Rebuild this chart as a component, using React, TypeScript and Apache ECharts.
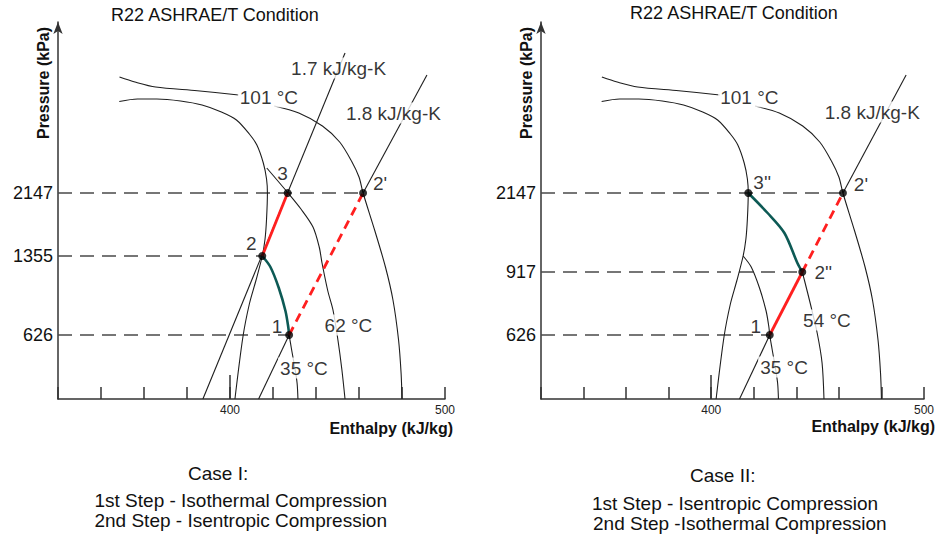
import React, { useEffect, useRef } from "react";
import * as echarts from "echarts";

const FONT = '"Liberation Sans", Arial, Helvetica, sans-serif';

// ---------- axes ----------
const hMin = 320;
const hMax = 500;
const hStep = 20;
const hLabels = [400, 500];
const hMajorTick = [400];
const levelMax = 377; // schematic pressure-axis height (diagram units)

// pressure tick labels (kPa) and their schematic levels
const pressuresI = [626, 1355, 2147];
const levelsI = [64, 143, 206];
const pressuresII = [626, 917, 2147];
const levelsII = [64, 127, 206];

// ---------- shared property lines [enthalpy kJ/kg, level] ----------
const iso101Liquid = [
  [348.6, 322], [355.8, 317], [365.4, 312], [384.8, 308.3], [404, 304],
];
const iso101Vapor = [
  [420.6, 293], [432, 286], [443, 273], [451, 257], [456.5, 238], [460, 222],
  [461.9, 206], [467.4, 168], [472.3, 132], [475.8, 99], [478.4, 59], [479.6, 25], [480, 0],
];
const satDome = [
  [348.5, 297.5], [357, 300], [366, 300], [377, 298], [387, 294], [396, 287],
  [403, 279], [409, 265], [412.5, 254], [415.5, 236], [417, 220], [417.4, 206],
  [417, 180], [416.3, 160], [415, 143], [412, 118], [409, 95], [406, 62], [402.3, 0],
];
const iso35Upper = [
  [415, 143], [418.8, 132], [422.7, 111], [425.8, 88], [427.1, 72], [427.5, 64],
];
const iso35Lower = [
  [427.5, 64], [428.6, 50], [430, 33], [431.2, 16], [431.6, 0],
];
const isentrope18Lower = [[413.3, 0], [427.5, 64]];
const isentrope18Upper = [[461.9, 206], [491.6, 324]];

// Case I only
const isentrope17 = [[387.4, 0], [453.5, 346]];
const iso62 = [
  [417.1, 231], [427, 206], [433, 190], [438.6, 172], [441.5, 152], [442.8, 136],
  [445.5, 108], [447.9, 89], [450.2, 59], [452, 30], [453.5, 0],
];
// Case II only
const iso54Upper = [
  [417.4, 206], [426.5, 186], [434.4, 166], [440.5, 136], [442.8, 127],
];
const iso54Lower = [
  [442.8, 127], [443.9, 118], [446.5, 96], [449.8, 66], [452.1, 36], [453, 0],
];

// state points [name, enthalpy, level]
const statesI: [string, number, number][] = [
  ["1", 427.5, 64], ["2", 415, 143], ["3", 426.8, 206], ["2'", 461.9, 206],
];
const statesII: [string, number, number][] = [
  ["1", 427.5, 64], ["2''", 442.8, 127], ["3''", 417.4, 206], ["2'", 461.9, 206],
];

// curve labels [text, enthalpy, level]
const curveLabelsI: [string, number, number][] = [
  ["101 °C", 418.1, 302], ["1.7 kJ/kg-K", 450.5, 331], ["1.8 kJ/kg-K", 476, 286],
  ["62 °C", 455.1, 74], ["35 °C", 434.4, 31],
];
const curveLabelsII: [string, number, number][] = [
  ["101 °C", 417.9, 302], ["1.8 kJ/kg-K", 475.7, 287], ["54 °C", 454.4, 79],
  ["35 °C", 434.2, 32],
];

const titleText = "R22 ASHRAE/T Condition";
const captionI = ["Case I:", "1st Step - Isothermal Compression", "2nd Step - Isentropic Compression"];
const captionII = ["Case II:", "1st Step - Isentropic Compression", "2nd Step -Isothermal Compression"];

// ---------- styles ----------
const INK = "#1e1e1e";
const AXIS = "#333";
const TEAL = "#0d5a55";
const RED = "#ff1f1f";
const DASH = "#4a4a4a";

const offsetsI: Record<string, [number, number]> = {
  "1": [-12, -9], "2": [-11, -13], "3": [-5, -20], "2'": [17, -10],
};
const offsetsII: Record<string, [number, number]> = {
  "1": [-14, -9], "2''": [21, 0], "3''": [14, -11], "2'": [18, -9],
};

function lineSeries(data: number[][], xi: number, yi: number, style: any, smooth: number | false = false, z = 2) {
  return {
    type: "line",
    data,
    xAxisIndex: xi,
    yAxisIndex: yi,
    symbol: "none",
    showSymbol: false,
    silent: true,
    smooth,
    z,
    lineStyle: style,
    emphasis: { disabled: true },
  };
}

function dashedLevels(levels: number[], states: [string, number, number][], xi: number, yi: number) {
  return levels.map((lv) => {
    const st = states.filter((s) => s[2] === lv).sort((a, b) => b[1] - a[1])[0];
    return lineSeries([[hMin, lv], [st[1], lv]], xi, yi, { color: DASH, width: 1.3, type: [14, 8] }, false, 1);
  });
}

function labelSeries(labels: [string, number, number][], xi: number, yi: number) {
  return {
    type: "scatter",
    xAxisIndex: xi,
    yAxisIndex: yi,
    symbolSize: 1,
    silent: true,
    z: 5,
    itemStyle: { color: "transparent" },
    data: labels.map((l) => ({ name: l[0], value: [l[1], l[2]] })),
    label: {
      show: true,
      position: "inside",
      formatter: "{b}",
      fontFamily: FONT,
      fontSize: 19,
      color: "#000",
      textBorderWidth: 0,
      backgroundColor: "#ffffff",
      padding: [1, 2],
    },
  };
}

function stateSeries(states: [string, number, number][], offsets: Record<string, [number, number]>, xi: number, yi: number) {
  return {
    type: "scatter",
    xAxisIndex: xi,
    yAxisIndex: yi,
    symbolSize: 8,
    silent: true,
    z: 6,
    itemStyle: { color: "#000" },
    data: states.map((s) => ({
      name: s[0],
      value: [s[1], s[2]],
      label: { offset: offsets[s[0]] },
    })),
    label: {
      show: true,
      position: "inside",
      formatter: "{b}",
      fontFamily: FONT,
      fontSize: 19,
      color: "#000",
      textBorderWidth: 0,
    },
  };
}

function xMain(g: number) {
  return {
    type: "value",
    gridIndex: g,
    min: hMin,
    max: hMax,
    interval: hStep,
    position: "bottom",
    axisLine: { show: true, onZero: false, lineStyle: { color: AXIS, width: 1.5 } },
    axisTick: { show: true, inside: true, length: 12, lineStyle: { color: AXIS, width: 1.5 } },
    axisLabel: { customValues: hLabels, fontSize: 12, color: "#222", margin: 5, fontFamily: FONT },
    splitLine: { show: false },
  };
}
function xMajor(g: number) {
  return {
    type: "value",
    gridIndex: g,
    min: hMin,
    max: hMax,
    position: "bottom",
    axisLine: { show: false },
    axisTick: { show: true, inside: true, length: 24, customValues: hMajorTick, lineStyle: { color: AXIS, width: 1.5 } },
    axisLabel: { show: false },
    splitLine: { show: false },
  };
}
function yAxisOf(g: number, levels: number[], pressures: number[]) {
  return {
    type: "value",
    gridIndex: g,
    min: 0,
    max: levelMax,
    axisLine: {
      show: true,
      onZero: false,
      symbol: ["none", "arrow"],
      symbolSize: [7, 12],
      lineStyle: { color: AXIS, width: 1.5 },
    },
    axisTick: { show: false },
    splitLine: { show: false },
    axisLabel: {
      customValues: levels,
      formatter: (v: number) => {
        const i = levels.indexOf(v);
        return i >= 0 ? String(pressures[i]) : "";
      },
      fontSize: 18,
      color: "#111",
      margin: 5,
      fontFamily: FONT,
    },
  };
}

function txt(text: string, x: number, y: number, opts: any = {}) {
  return {
    type: "text",
    x,
    y,
    rotation: opts.rotation || 0,
    silent: true,
    style: {
      text,
      fontFamily: FONT,
      fontSize: opts.size || 19,
      fontWeight: opts.weight || "normal",
      fill: "#111",
      align: opts.align || "left",
      verticalAlign: "middle",
    },
  };
}

export default function App() {
  const ref = useRef<HTMLDivElement>(null);

  useEffect(() => {
    if (!ref.current) return;
    const chart = echarts.init(ref.current, null, { renderer: "svg" });
    const black = { color: INK, width: 1.1 };
    const teal = { color: TEAL, width: 2.6 };
    const redSolid = { color: RED, width: 2.8 };
    const redDash = { color: RED, width: 2.8, type: [9, 6] };

    const sI = Object.fromEntries(statesI.map((s) => [s[0], [s[1], s[2]]]));
    const sII = Object.fromEntries(statesII.map((s) => [s[0], [s[1], s[2]]]));

    const seriesI: any[] = [
      ...dashedLevels(levelsI, statesI, 0, 0),
      lineSeries(iso101Liquid, 0, 0, black, 0.3),
      lineSeries(iso101Vapor, 0, 0, black, 0.3),
      lineSeries(satDome, 0, 0, black, 0.3),
      lineSeries(iso62, 0, 0, black, 0.3),
      lineSeries(isentrope17, 0, 0, black),
      lineSeries(isentrope18Lower, 0, 0, black),
      lineSeries(isentrope18Upper, 0, 0, black),
      lineSeries(iso35Lower, 0, 0, black, 0.3),
      labelSeries(curveLabelsI, 0, 0),
      lineSeries(iso35Upper, 0, 0, teal, 0.3, 3),
      lineSeries([sI["2"], sI["3"]], 0, 0, redSolid, false, 3),
      lineSeries([sI["1"], sI["2'"]], 0, 0, redDash, false, 3),
      stateSeries(statesI, offsetsI, 0, 0),
    ];
    const seriesII: any[] = [
      ...dashedLevels(levelsII, statesII, 2, 1),
      lineSeries(iso101Liquid, 2, 1, black, 0.3),
      lineSeries(iso101Vapor, 2, 1, black, 0.3),
      lineSeries(satDome, 2, 1, black, 0.3),
      lineSeries([...iso35Upper, ...iso35Lower.slice(1)], 2, 1, black, 0.3),
      lineSeries(iso54Lower, 2, 1, black, 0.3),
      lineSeries(isentrope18Lower, 2, 1, black),
      lineSeries(isentrope18Upper, 2, 1, black),
      labelSeries(curveLabelsII, 2, 1),
      lineSeries(iso54Upper, 2, 1, teal, 0.3, 3),
      lineSeries([sII["1"], sII["2''"]], 2, 1, redSolid, false, 3),
      lineSeries([sII["2''"], sII["2'"]], 2, 1, redDash, false, 3),
      stateSeries(statesII, offsetsII, 2, 1),
    ];

    chart.setOption({
      animation: false,
      backgroundColor: "#fff",
      grid: [
        { left: 58, top: 22, width: 387, height: 377 },
        { left: 541, top: 22, width: 387, height: 377 },
      ],
      xAxis: [xMain(0), xMajor(0), xMain(1), xMajor(1)],
      yAxis: [yAxisOf(0, levelsI, pressuresI), yAxisOf(1, levelsII, pressuresII)],
      series: [...seriesI, ...seriesII],
      graphic: [
        txt(titleText, 215, 15, { size: 18, align: "center" }),
        txt(titleText, 734, 13, { size: 18, align: "center" }),
        txt("Pressure (kPa)", 43, 83, { size: 16, weight: "bold", align: "center", rotation: Math.PI / 2 }),
        txt("Pressure (kPa)", 526, 83, { size: 16, weight: "bold", align: "center", rotation: Math.PI / 2 }),
        txt("Enthalpy (kJ/kg)", 453, 428, { size: 16, weight: "bold", align: "right" }),
        txt("Enthalpy (kJ/kg)", 935, 426, { size: 16, weight: "bold", align: "right" }),
        txt(captionI[0], 188, 473),
        txt(captionI[1], 387, 500, { align: "right" }),
        txt(captionI[2], 387, 520, { align: "right" }),
        txt(captionII[0], 690, 475),
        txt(captionII[1], 592, 503),
        txt(captionII[2], 593, 523),
      ],
    });
    return () => chart.dispose();
  }, []);

  return (
    <div
      ref={ref}
      style={{ position: "fixed", left: 0, top: 0, width: 937, height: 540, background: "#fff" }}
    />
  );
}
